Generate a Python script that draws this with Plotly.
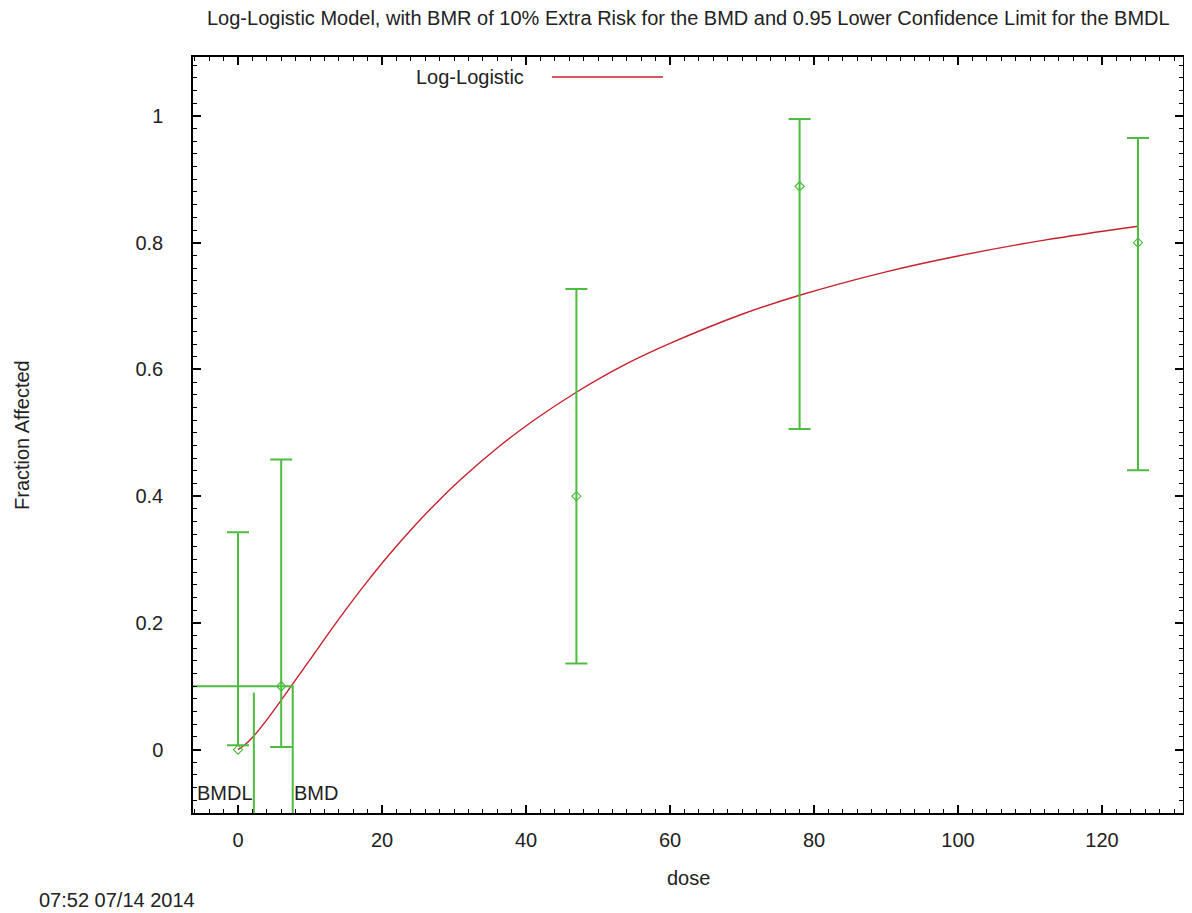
import plotly.graph_objects as go

# ---- data ----
dose = [0, 6, 47, 78, 125]
frac = [0.0, 0.1, 0.4, 0.889, 0.8]
ci_hi = [0.343, 0.458, 0.727, 0.995, 0.965]
ci_lo = [0.007, 0.004, 0.136, 0.506, 0.441]

curve_dose = [0, 1, 2, 4, 6, 8, 10, 14, 18, 22, 27, 31, 36, 41, 47,
              54, 60, 70, 78, 90, 100, 112, 125]
curve_frac = [0.0, 0.008, 0.019, 0.047, 0.078, 0.110, 0.142, 0.206, 0.266,
              0.321, 0.383, 0.427, 0.476, 0.519, 0.564, 0.609, 0.641, 0.687,
              0.717, 0.754, 0.779, 0.804, 0.826]

bmr = 0.1
bmd = 7.6
bmdl = 2.2
bmdl_top = 0.09

x_ticks = [0, 20, 40, 60, 80, 100, 120]
y_ticks = [0, 0.2, 0.4, 0.6, 0.8, 1]
y_tick_text = ["0", "0.2", "0.4", "0.6", "0.8", "1"]
x_range = [-6.25, 131.25]
y_range = [-0.1, 1.093]

title = "Log-Logistic Model, with BMR of 10% Extra Risk for the BMD and 0.95 Lower Confidence Limit for the BMDL"
timestamp = "07:52 07/14 2014"

GREEN = "#4cbd3f"
RED = "#c8202a"
FONT = "Liberation Sans, Arial, sans-serif"
FS = 20
TXT = "#222222"

fig = go.Figure()

# model curve
fig.add_trace(go.Scatter(
    x=curve_dose, y=curve_frac, mode="lines", line=dict(color=RED, width=1.4, shape="spline"),
    name="Log-Logistic", showlegend=False, hoverinfo="skip"))

# data points with CI bars
fig.add_trace(go.Scatter(
    x=dose, y=frac, mode="markers",
    marker=dict(symbol="diamond-open", size=7, color=GREEN, line=dict(width=1.2, color=GREEN)),
    error_y=dict(type="data", symmetric=False,
                 array=[h - f for h, f in zip(ci_hi, frac)],
                 arrayminus=[f - l for f, l in zip(frac, ci_lo)],
                 color=GREEN, thickness=2, width=11),
    showlegend=False))

# BMR horizontal line to BMD, then BMD vertical down
fig.add_trace(go.Scatter(
    x=[x_range[0], bmd, bmd], y=[bmr, bmr, y_range[0]], mode="lines",
    line=dict(color=GREEN, width=2), showlegend=False, hoverinfo="skip"))
# BMDL vertical
fig.add_trace(go.Scatter(
    x=[bmdl, bmdl], y=[bmdl_top, y_range[0]], mode="lines",
    line=dict(color=GREEN, width=2), showlegend=False, hoverinfo="skip"))

# BMDL / BMD labels
fig.add_annotation(x=bmdl, y=-0.068, xref="x", yref="y", text="BMDL", showarrow=False,
                   xanchor="right", yanchor="middle", xshift=1,
                   font=dict(family=FONT, size=FS, color=TXT))
fig.add_annotation(x=bmd, y=-0.068, xref="x", yref="y", text="BMD", showarrow=False,
                   xanchor="left", yanchor="middle", xshift=-1,
                   font=dict(family=FONT, size=FS, color=TXT))

# legend (text then line sample, gnuplot style)
fig.add_annotation(x=0.3364, y=0.9735, xref="paper", yref="paper", text="Log-Logistic",
                   showarrow=False, xanchor="right", yanchor="middle",
                   font=dict(family=FONT, size=FS, color=TXT))
fig.add_shape(type="line", xref="paper", yref="paper", x0=0.3626, x1=0.4747, y0=0.9735, y1=0.9735,
              line=dict(color=RED, width=1.6))

# title
fig.add_annotation(x=0.5, y=1, xref="paper", yref="paper", yshift=39, text=title,
                   showarrow=False, xanchor="center", yanchor="middle",
                   font=dict(family=FONT, size=FS, color=TXT))
# axis titles
fig.add_annotation(x=0.5, y=0, xref="paper", yref="paper", yshift=-65, text="dose",
                   showarrow=False, xanchor="center", yanchor="middle",
                   font=dict(family=FONT, size=FS, color=TXT))
fig.add_annotation(x=0, y=0.5, xref="paper", yref="paper", xshift=-171, text="Fraction Affected",
                   showarrow=False, xanchor="center", yanchor="middle", textangle=-90,
                   font=dict(family=FONT, size=FS, color=TXT))
# timestamp
fig.add_annotation(x=0, y=0, xref="paper", yref="paper", xshift=-156, yshift=-87, text=timestamp,
                   showarrow=False, xanchor="left", yanchor="middle",
                   font=dict(family=FONT, size=FS, color=TXT))

axis_common = dict(showgrid=False, zeroline=False, showline=True, linecolor="black", linewidth=1.5,
                   mirror="ticks", ticks="inside", ticklen=8, tickwidth=1.5, tickcolor="black",
                   tickfont=dict(family=FONT, size=FS, color=TXT))

fig.update_xaxes(range=x_range, tickvals=x_ticks, ticktext=[str(v) for v in x_ticks],
                 ticklabelstandoff=8,
                 minor=dict(dtick=2, ticks="inside", ticklen=4, tickwidth=1, tickcolor="black", showgrid=False),
                 **axis_common)
fig.update_yaxes(range=y_range, tickvals=y_ticks, ticktext=y_tick_text,
                 ticklabelstandoff=24,
                 minor=dict(dtick=0.02, ticks="inside", ticklen=4, tickwidth=1, tickcolor="black", showgrid=False),
                 **axis_common)

# the page puts the figure 8px from the top-left corner, so the figure is 8px smaller
fig.update_layout(width=1184, height=905,
                  margin=dict(l=185, r=9, t=49, b=100, autoexpand=False),
                  paper_bgcolor="white", plot_bgcolor="white",
                  showlegend=False, font=dict(family=FONT, size=FS, color=TXT))

fig.write_html("out.html")
